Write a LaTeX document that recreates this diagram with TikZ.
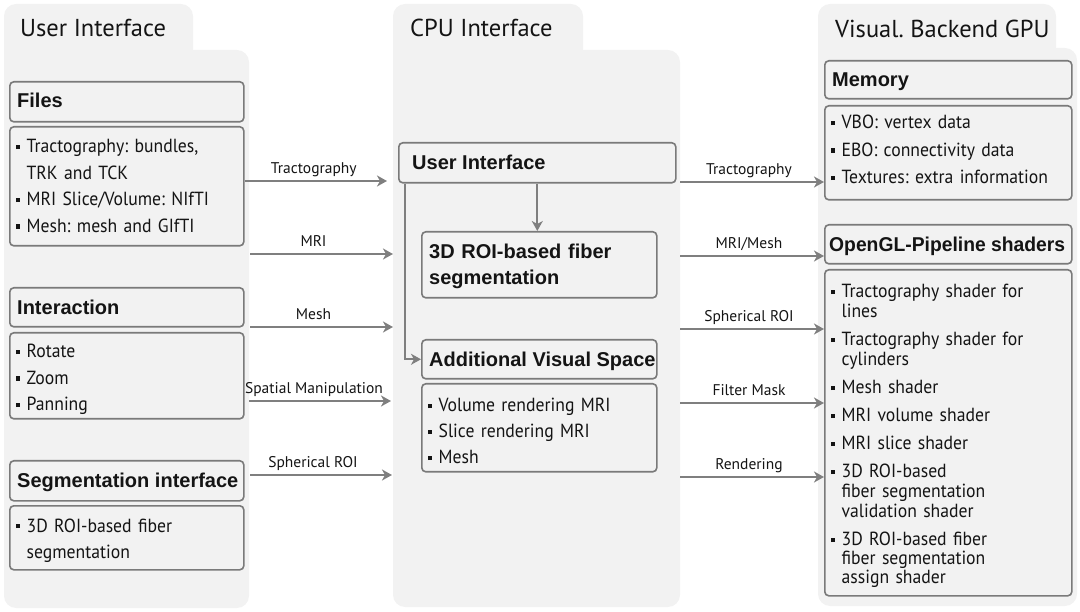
\documentclass[tikz,border=0pt]{standalone}
\usepackage{fontspec}
\setmainfont{PT Sans}[FakeStretch=0.93, WordSpace=0.6]
\newfontfamily\headfam{Liberation Sans}
\newfontfamily\headnarrow{Liberation Sans}[FakeStretch=0.965]
\newfontfamily\lblfam{PT Sans}[WordSpace=0.6]
\newfontfamily\titlefam{PT Sans}
\usetikzlibrary{arrows.meta}
\definecolor{panelgray}{HTML}{F2F2F2}
\definecolor{boxgray}{HTML}{7A7A7A}
\definecolor{arrgray}{HTML}{7F7F7F}
\definecolor{txtcol}{HTML}{141414}
\newcommand\bitem{\rule[0.21em]{0.22em}{0.22em}\hspace{0.33em}}
\newcommand\cont{\hspace*{0.55em}}
\frenchspacing
\begin{document}
\begin{tikzpicture}[x=1pt,y=-1pt,
  panel/.style={fill=panelgray, draw=none, rounded corners=12pt},
  box/.style={draw=boxgray, line width=1.6pt, rounded corners=4pt, fill=panelgray, anchor=north west, inner sep=0pt},
  headtxt/.style={anchor=base west, inner sep=0pt, text=txtcol, font=\headfam\bfseries\fontsize{20}{26}\selectfont},
  bodytxt/.style={anchor=base west, inner sep=0pt, text=txtcol, align=left, text width=230pt, font=\fontsize{19}{26.5}\selectfont},
  titletxt/.style={anchor=base west, inner sep=0pt, text=txtcol, font=\titlefam\fontsize{24.5}{28}\selectfont},
  conn/.style={draw=arrgray, line width=1.8pt, -{Stealth[length=10pt, width=11pt, inset=3pt]}},
  lbl/.style={anchor=base, inner sep=0pt, text=txtcol, font=\lblfam\fontsize{15.5}{18}\selectfont, yshift=7.5pt}
]
\useasboundingbox (0,0) rectangle (1080,612);
% panels
\fill[panel] (4,4) rectangle (193,100);
\fill[panel] (4,50) rectangle (249,608);
\fill[panel] (393,4) rectangle (583,100);
\fill[panel] (393,50) rectangle (680,607);
\fill[panel] (818,4) rectangle (1056,100);
\fill[panel] (818,48) rectangle (1077,606);
% titles
\node[titletxt] (t1) at (20,37) {User Interface};
\node[titletxt] (t2) at (410,37) {CPU Interface};
\node[titletxt] (t3) at (835,38) {Visual. Backend GPU};
% left column boxes
\node[box, minimum width=234pt, minimum height=40pt] (fileshead) at (9,81) {};
\node[box, minimum width=234pt, minimum height=119pt] (filesbody) at (9,126) {};
\node[box, minimum width=234pt, minimum height=39pt] (interhead) at (9,287) {};
\node[box, minimum width=234pt, minimum height=86pt] (interbody) at (9,332) {};
\node[box, minimum width=234pt, minimum height=40pt] (seghead) at (9,460) {};
\node[box, minimum width=234pt, minimum height=64pt] (segbody) at (9,505) {};
\node[headtxt] (filesheadt) at (17,108) {Files};
\node[bodytxt] (filesbodyt) at (16,153) {\bitem Tractography: bundles,\\ \cont TRK and TCK\\ \bitem MRI Slice/Volume: NIfTI\\ \bitem Mesh: mesh and GIfTI};
\node[headtxt] (interheadt) at (17,315) {Interaction};
\node[bodytxt] (interbodyt) at (16,358) {\bitem Rotate\\ \bitem Zoom\\ \bitem Panning};
\node[headtxt] (segheadt) at (17,488) {Segmentation interface};
\node[bodytxt] (segbodyt) at (16,532) {\bitem 3D ROI-based fiber\\ \cont segmentation};
% middle column boxes
\node[box, minimum width=277pt, minimum height=40pt] (uihead) at (398,142) {};
\node[box, minimum width=235pt, minimum height=66pt] (roibox) at (421,231) {};
\node[box, minimum width=235pt, minimum height=39pt] (avshead) at (421,339) {};
\node[box, minimum width=235pt, minimum height=88pt] (avsbody) at (421,383) {};
\node[headtxt] (uiheadt) at (412,170) {User Interface};
\node[headtxt, align=left, text width=225pt] (roiboxt) at (429,259) {3D ROI-based fiber\\ segmentation};
\node[headtxt] (avsheadt) at (429,367) {Additional Visual Space};
\node[bodytxt, font=\fontsize{19}{26}\selectfont] (avsbodyt) at (428,412) {\bitem Volume rendering MRI\\ \bitem Slice rendering MRI\\ \bitem Mesh};
% right column boxes
\node[box, minimum width=247pt, minimum height=38pt] (memhead) at (824,60) {};
\node[box, minimum width=247pt, minimum height=94pt] (membody) at (824,105) {};
\node[box, minimum width=247pt, minimum height=39pt] (oglhead) at (824,224) {};
\node[box, minimum width=247pt, minimum height=326pt] (oglbody) at (824,269) {};
\node[headtxt] (memheadt) at (832,87) {Memory};
\node[bodytxt, font=\fontsize{19}{27.5}\selectfont] (membodyt) at (831,129) {\bitem VBO: vertex data\\ \bitem EBO: connectivity data\\ \bitem Textures: extra information};
\node[headtxt, font=\headnarrow\bfseries\fontsize{20}{26}\selectfont] (oglheadt) at (829,252) {OpenGL-Pipeline shaders};
\node[bodytxt, font=\fontsize{19}{28}\selectfont] (oglbodyt) at (831,298) {\bitem Tractography shader for\\[-8pt] \cont lines\\ \bitem Tractography shader for\\[-8pt] \cont cylinders\\ \bitem Mesh shader\\ \bitem MRI volume shader\\ \bitem MRI slice shader\\ \bitem 3D ROI-based\\[-8pt] \cont fiber segmentation\\[-8pt] \cont validation shader\\ \bitem 3D ROI-based fiber\\[-9pt] \cont fiber segmentation\\[-9pt] \cont assign shader};
% connector end points (panel edges)
\coordinate (la1) at (250,254);
\coordinate (la2) at (250,327);
\coordinate (la3) at (249,401);
\coordinate (la4) at (250,475);
\coordinate (lb0) at (387,181);
\coordinate (lb1) at (393,254);
\coordinate (lb2) at (393,327);
\coordinate (lb3) at (391,401);
\coordinate (lb4) at (392,475);
\coordinate (ra0) at (680,182);
\coordinate (ra1) at (680,256);
\coordinate (ra2) at (680,329);
\coordinate (ra3) at (680,403);
\coordinate (ra4) at (680,477);
% left-to-middle connectors
\draw[conn] (filesbody.east |- lb0) -- (lb0) node[lbl, midway, xshift=-2pt] {Tractography};
\draw[conn] (la1) -- (lb1) node[lbl, midway, xshift=-8pt] {MRI};
\draw[conn] (la2) -- (lb2) node[lbl, midway, xshift=-8pt] {Mesh};
\draw[conn] (la3) -- (lb3) node[lbl, midway, xshift=-6pt] {Spatial Manipulation};
\draw[conn] (la4) -- (lb4) node[lbl, midway, xshift=-8pt] {Spherical ROI};
% middle internal connectors
\draw[conn] (uihead.south) -- (uihead.south |- roibox.north);
\draw[conn] ([xshift=7pt]uihead.south west) |- (avshead.west);
% middle-to-right connectors
\draw[conn] (ra0) -- (ra0 -| memhead.west) node[lbl, midway, xshift=-3pt] {Tractography};
\draw[conn] (ra1) -- (ra1 -| oglhead.west) node[lbl, midway, xshift=-3pt] {MRI/Mesh};
\draw[conn] (ra2) -- (ra2 -| oglbody.west) node[lbl, midway, xshift=-3pt] {Spherical ROI};
\draw[conn] (ra3) -- (ra3 -| oglbody.west) node[lbl, midway, xshift=-3pt] {Filter Mask};
\draw[conn] (ra4) -- (ra4 -| oglbody.west) node[lbl, midway, xshift=-3pt] {Rendering};
\end{tikzpicture}
\end{document}
